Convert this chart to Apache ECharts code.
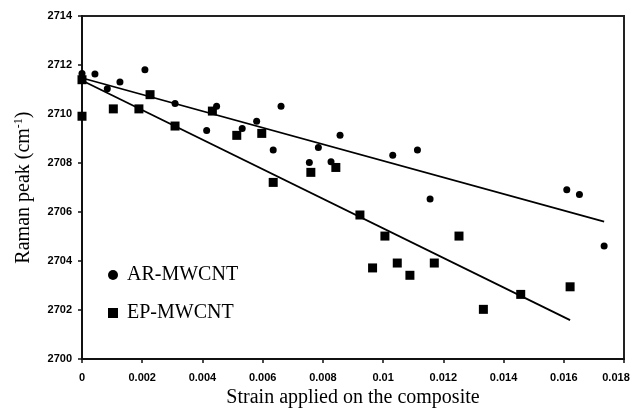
<!DOCTYPE html>
<html>
<head>
<meta charset="utf-8">
<script src="https://cdn.jsdelivr.net/npm/echarts@6/dist/echarts.min.js"></script>
<style>html,body{margin:0;padding:0;background:#fff}#c{width:635px;height:413px}</style>
</head>
<body>
<div id="c"></div>
<script>
// AR-MWCNT (circles)
const arStrain = [0, 0.00043, 0.00084, 0.00126, 0.00209, 0.00309, 0.00414, 0.00447, 0.00532, 0.00580, 0.00635, 0.00661, 0.00755, 0.00785, 0.00827, 0.00857, 0.01032, 0.01114, 0.01156, 0.01610, 0.01652, 0.01734];
const arPeak   = [2711.65, 2711.63, 2711.03, 2711.31, 2711.81, 2710.43, 2709.33, 2710.32, 2709.41, 2709.71, 2708.53, 2710.32, 2708.02, 2708.63, 2708.05, 2709.13, 2708.32, 2708.53, 2706.53, 2706.91, 2706.72, 2704.61];
// EP-MWCNT (squares)
const epStrain = [0, 0, 0.00104, 0.00189, 0.00226, 0.00309, 0.00433, 0.00514, 0.00597, 0.00635, 0.00760, 0.00843, 0.00923, 0.00965, 0.01006, 0.01047, 0.01089, 0.01170, 0.01252, 0.01333, 0.01457, 0.01621];
const epPeak   = [2711.40, 2709.91, 2710.21, 2710.21, 2710.79, 2709.51, 2710.12, 2709.13, 2709.21, 2707.21, 2707.62, 2707.82, 2705.88, 2703.72, 2705.02, 2703.92, 2703.42, 2703.92, 2705.02, 2702.03, 2702.64, 2702.95];
// fitted trend lines (end points)
const arFitStrain = [0, 0.01734];
const arFitPeak   = [2711.47, 2705.61];
const epFitStrain = [0, 0.01621];
const epFitPeak   = [2711.37, 2701.59];
// axes
const xMin = 0, xMax = 0.018, xStep = 0.002;
const yMin = 2700, yMax = 2714, yStep = 2;
const seriesNames = ['AR-MWCNT', 'EP-MWCNT'];
const xName = 'Strain applied on the composite';

const zip = (a, b) => a.map((v, i) => [v, b[i]]);
const serif = 'Liberation Serif, Times New Roman, serif';
const sans = 'Liberation Sans, Arial, sans-serif';

const chart = echarts.init(document.getElementById('c'), null, {renderer: 'canvas'});
chart.setOption({
  animation: false,
  backgroundColor: '#fff',
  grid: {left: 82, right: 11, top: 16, bottom: 52, show: true, borderColor: '#222', borderWidth: 2, backgroundColor: 'transparent'},
  legend: {
    orient: 'vertical', left: 103, top: 260,
    itemWidth: 10, itemHeight: 10, itemGap: 18,
    data: [{name: seriesNames[0], icon: 'circle'}, {name: seriesNames[1], icon: 'rect'}],
    itemStyle: {color: '#000'},
    textStyle: {fontFamily: serif, fontSize: 20, color: '#000', padding: [0, 0, 0, 4]}
  },
  xAxis: {
    type: 'value', min: xMin, max: xMax, interval: xStep,
    name: xName, nameLocation: 'middle', nameGap: 28,
    nameTextStyle: {fontFamily: serif, fontSize: 20, color: '#000'},
    axisLine: {show: true, lineStyle: {color: '#111', width: 2}},
    axisTick: {show: true, inside: false, length: 4, lineStyle: {color: '#111', width: 1.5}},
    splitLine: {show: false},
    axisLabel: {
      margin: 13, fontFamily: sans, fontWeight: 'bold', fontSize: 11, color: '#000',
      formatter: v => {
        const s = String(parseFloat(v.toFixed(4)));
        return Math.abs(v - xMax) < 1e-9 ? '{last|' + s + '}' : s;
      },
      rich: {last: {fontFamily: sans, fontWeight: 'bold', fontSize: 11, color: '#000', padding: [0, 16, 0, 0]}}
    }
  },
  yAxis: {
    type: 'value', min: yMin, max: yMax, interval: yStep,
    name: 'Raman peak (cm{sup|-1})', nameLocation: 'middle', nameGap: 47,
    nameTextStyle: {
      fontFamily: serif, fontSize: 20, color: '#000',
      rich: {sup: {fontFamily: serif, fontSize: 12, color: '#000', padding: [0, 0, 10, 0]}}
    },
    axisLine: {show: true, lineStyle: {color: '#111', width: 2}},
    axisTick: {show: true, inside: false, length: 4, lineStyle: {color: '#111', width: 1.5}},
    splitLine: {show: false},
    axisLabel: {margin: 10, fontFamily: sans, fontWeight: 'bold', fontSize: 11, color: '#000', formatter: v => String(v)}
  },
  series: [
    {
      name: seriesNames[0] + ' fit', type: 'line', data: zip(arFitStrain, arFitPeak),
      showSymbol: false, symbol: 'none', lineStyle: {color: '#000', width: 1.8}, z: 2, silent: true
    },
    {
      name: seriesNames[1] + ' fit', type: 'line', data: zip(epFitStrain, epFitPeak),
      showSymbol: false, symbol: 'none', lineStyle: {color: '#000', width: 1.8}, z: 2, silent: true
    },
    {
      name: seriesNames[0], type: 'scatter', data: zip(arStrain, arPeak),
      symbol: 'circle', symbolSize: 7, itemStyle: {color: '#000', opacity: 1}, z: 3
    },
    {
      name: seriesNames[1], type: 'scatter', data: zip(epStrain, epPeak),
      symbol: 'rect', symbolSize: 9, itemStyle: {color: '#000', opacity: 1}, z: 3
    }
  ]
});
</script>
</body>
</html>
